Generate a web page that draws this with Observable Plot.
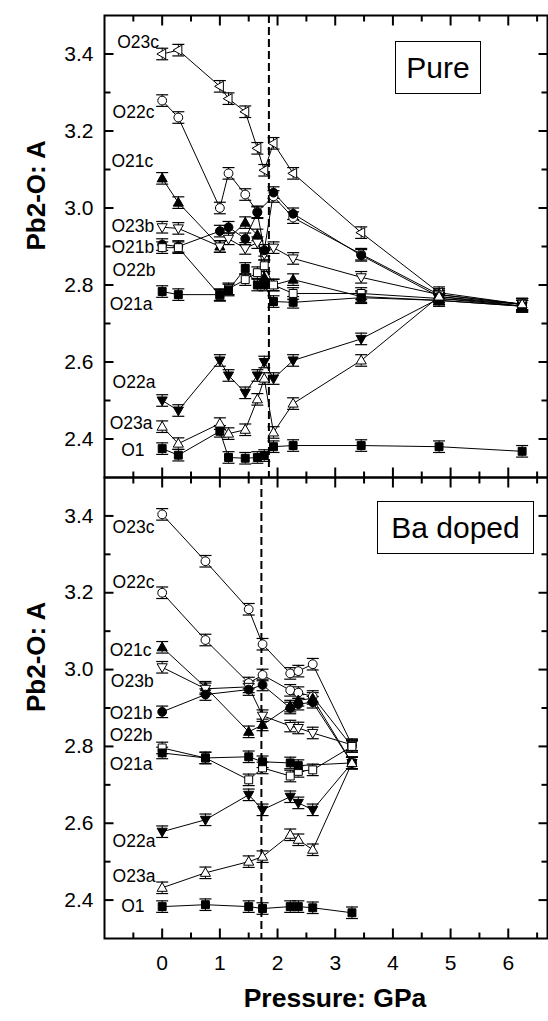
<!DOCTYPE html>
<html><head><meta charset="utf-8">
<script src="https://cdn.jsdelivr.net/npm/d3@7"></script>
<script src="https://cdn.jsdelivr.net/npm/@observablehq/plot@0.6"></script>
<style>
body{margin:0;background:#fff;font-family:"Liberation Sans",Arial,sans-serif;}
#wrap{position:relative;width:548px;height:1021px;overflow:hidden;background:#fff;}
#wrap svg{position:absolute;left:0;overflow:visible;background:none;}
.box{position:absolute;border:1.5px solid #000;background:#fff;font-size:30px;display:flex;align-items:center;justify-content:center;box-sizing:border-box;}
</style></head><body><div id="wrap"></div>
<script>
// ---------- data ----------
const seriesNames = ["O23c","O22c","O21c","O23b","O21b","O22b","O21a","O22a","O23a","O1"];

// Pure sample
const purePressure = [0, 0.28, 1.0, 1.15, 1.44, 1.65, 1.77, 1.93, 2.27, 3.45, 4.8, 6.24];
const pure_O23c = [3.40, 3.41, 3.316, 3.284, 3.25, 3.155, 3.098, 3.168, 3.09, 2.936, 2.78, 2.75];
const pure_O22c = [3.279, 3.235, 3.00, 3.09, 3.035, 2.99, null, 3.03, 2.975, 2.88, 2.775, 2.75];
const pure_O21c = [3.077, 3.014, 2.90, null, 2.962, 2.93, 2.82, 2.80, 2.814, 2.77, 2.76, 2.745];
const pure_O23b = [2.95, 2.947, 2.90, 2.92, 2.895, 2.91, 2.88, 2.897, 2.869, 2.82, 2.775, 2.75];
const pure_O21b = [2.905, 2.90, 2.94, 2.95, 2.92, 2.988, 2.89, 3.04, 2.985, 2.877, 2.77, 2.745];
const pure_O22b = [2.897, 2.897, 2.773, 2.79, 2.814, 2.832, 2.85, 2.80, 2.778, 2.778, 2.765, 2.75];
const pure_O21a = [2.783, 2.775, 2.775, 2.787, 2.843, 2.80, 2.80, 2.757, 2.755, 2.767, 2.76, 2.745];
const pure_O22a = [2.50, 2.474, 2.604, 2.565, 2.52, 2.565, 2.60, 2.557, 2.604, 2.66, 2.765, 2.745];
const pure_O23a = [2.432, 2.388, 2.44, 2.414, 2.424, 2.503, 2.557, 2.417, 2.492, 2.604, 2.77, 2.75];
const pure_O1   = [2.375, 2.358, 2.42, 2.352, 2.35, 2.352, 2.357, 2.38, 2.383, 2.383, 2.38, 2.368];
const pureLabelX = [-0.78, -0.86, -0.88, -0.88, -0.88, -0.86, -0.91, -0.86, -0.91, -0.71];
const pureLabelY = [3.43, 3.248, 3.12, 2.952, 2.897, 2.838, 2.75, 2.547, 2.44, 2.37];
const pureTransition = 1.85;

// Ba doped sample
const baPressure = [0, 0.75, 1.5, 1.74, 2.22, 2.36, 2.61, 3.29];
const ba_O23c = [3.404, 3.282, 3.157, 3.066, 2.99, 2.996, 3.014, 2.804];
const ba_O22c = [3.20, 3.077, 2.965, 2.986, 2.946, 2.94, 2.93, 2.80];
const ba_O21c = [3.058, 2.954, 2.838, 2.856, 2.905, 2.92, 2.925, 2.757];
const ba_O23b = [3.006, 2.95, 2.955, 2.88, 2.853, 2.848, 2.835, 2.804];
const ba_O21b = [2.89, 2.935, 2.948, 2.96, 2.90, 2.91, 2.915, 2.757];
const ba_O22b = [2.796, 2.77, 2.713, 2.744, 2.723, 2.735, 2.739, 2.80];
const ba_O21a = [2.783, 2.77, 2.773, 2.76, 2.757, 2.75, null, 2.757];
const ba_O22a = [2.578, 2.609, 2.674, 2.635, 2.669, 2.653, 2.635, 2.757];
const ba_O23a = [2.432, 2.471, 2.50, 2.513, 2.57, 2.557, 2.531, 2.757];
const ba_O1   = [2.383, 2.388, 2.383, 2.378, 2.383, 2.383, 2.38, 2.367];
const baLabelX = [-0.86, -0.86, -0.91, -0.89, -0.91, -0.91, -0.91, -0.86, -0.86, -0.71];
const baLabelY = [3.370, 3.227, 3.05, 2.968, 2.887, 2.83, 2.752, 2.552, 2.461, 2.383];
const baTransition = 1.72;

const errorBar = 0.015;
const yMajor = [2.4, 2.6, 2.8, 3.0, 3.2, 3.4];
const yMinor = [2.5, 2.7, 2.9, 3.1, 3.3];
const xMajor = [0, 1, 2, 3, 4, 5, 6];
const xMinor = [-0.5, 0.5, 1.5, 2.5, 3.5, 4.5, 5.5, 6.5];
const xLabel = "Pressure: GPa";
const yLabel = "Pb2-O: A";

// ---------- symbols ----------
const rad = s => Math.sqrt(s / Math.PI);
const symCircle = {draw(c, s){const r = rad(s); c.moveTo(r,0); c.arc(0,0,r,0,2*Math.PI);}};
const symSquare = {draw(c, s){const r = rad(s)*0.9; c.rect(-r,-r,2*r,2*r);}};
const tri = (dir) => ({draw(c, s){
  const r = rad(s); const a = r*1.15, t = r*1.2, b = r*0.8;
  let pts = [[0,-t],[a,b],[-a,b]];
  if (dir === "down") pts = pts.map(([x,y]) => [x,-y]);
  if (dir === "left") pts = pts.map(([x,y]) => [y,x]);
  c.moveTo(...pts[0]); c.lineTo(...pts[1]); c.lineTo(...pts[2]); c.closePath();
}});
const tickSym = (dx, dy) => ({draw(c, s){const L = rad(s); c.moveTo(0,0); c.lineTo(dx*L, dy*L);}});
const symCap = {draw(c, s){const L = rad(s); c.moveTo(-L,0); c.lineTo(L,0);}};

const styleOf = {
  O23c: [tri("left"), "white"], O22c: [symCircle, "white"], O21c: [tri("up"), "black"],
  O23b: [tri("down"), "white"], O21b: [symCircle, "black"], O22b: [symSquare, "white"],
  O21a: [symSquare, "black"], O22a: [tri("down"), "black"], O23a: [tri("up"), "white"],
  O1: [symSquare, "black"]
};

function tidy(pressure, seriesArrays) {
  const rows = [];
  seriesNames.forEach((name, k) => {
    seriesArrays[k].forEach((v, i) => { if (v != null) rows.push({series: name, p: pressure[i], v}); });
  });
  return rows;
}

function panel({rows, labelX, labelY, transition, o23cSym, height, marginTop, marginBottom, bottomAxis}) {
  const labels = seriesNames.map((n, i) => ({n, x: labelX[i], y: labelY[i]}));
  const marks = [
    Plot.ruleX([transition], {stroke: "black", strokeWidth: 2, strokeDasharray: "8,4"}),
    Plot.line(rows, {x: "p", y: "v", z: "series", stroke: "black", strokeWidth: 1}),
    Plot.ruleX(rows, {x: "p", y1: d => d.v - errorBar, y2: d => d.v + errorBar, stroke: "black", strokeWidth: 1}),
    Plot.dot(rows, {x: "p", y: d => d.v + errorBar, symbol: symCap, r: 6, stroke: "black", strokeWidth: 1.2}),
    Plot.dot(rows, {x: "p", y: d => d.v - errorBar, symbol: symCap, r: 6, stroke: "black", strokeWidth: 1.2})
  ];
  for (const name of seriesNames) {
    let [sym, fill] = styleOf[name];
    if (name === "O23c" && o23cSym) sym = o23cSym;
    marks.push(Plot.dot(rows.filter(d => d.series === name), {x: "p", y: "v", symbol: sym, r: 4.4, fill, stroke: "black", strokeWidth: 1}));
  }
  marks.push(
    Plot.text(labels, {x: "x", y: "y", text: "n", textAnchor: "start", fontSize: 17.5, fill: "black"}),
    Plot.dot(xMajor, {x: d => d, frameAnchor: "bottom", symbol: tickSym(0,-1), r: 10, stroke: "black", strokeWidth: 2}),
    Plot.dot(xMinor, {x: d => d, frameAnchor: "bottom", symbol: tickSym(0,-1), r: 6, stroke: "black", strokeWidth: 2}),
    Plot.dot(xMajor, {x: d => d, frameAnchor: "top", symbol: tickSym(0,1), r: 10, stroke: "black", strokeWidth: 2}),
    Plot.dot(xMinor, {x: d => d, frameAnchor: "top", symbol: tickSym(0,1), r: 6, stroke: "black", strokeWidth: 2}),
    Plot.dot(yMajor, {y: d => d, frameAnchor: "left", symbol: tickSym(1,0), r: 9, stroke: "black", strokeWidth: 2}),
    Plot.dot(yMinor, {y: d => d, frameAnchor: "left", symbol: tickSym(1,0), r: 6, stroke: "black", strokeWidth: 2}),
    Plot.dot(yMajor, {y: d => d, frameAnchor: "right", symbol: tickSym(-1,0), r: 9, stroke: "black", strokeWidth: 2}),
    Plot.dot(yMinor, {y: d => d, frameAnchor: "right", symbol: tickSym(-1,0), r: 6, stroke: "black", strokeWidth: 2}),
    Plot.text(yMajor, {y: d => d, text: d => d.toFixed(1), frameAnchor: "left", textAnchor: "end", dx: -11, fontSize: 21, fill: "black"}),
    Plot.text([yLabel], {frameAnchor: "left", rotate: -90, dx: -68, dy: 4, fontSize: 26, fontWeight: "bold", fill: "black"}),
    Plot.frame({stroke: "black", strokeWidth: 2})
  );
  if (bottomAxis) {
    marks.push(
      Plot.text(xMajor, {x: d => d, text: d => String(d), frameAnchor: "bottom", dy: 31, fontSize: 21, fill: "black"}),
      Plot.text([xLabel], {frameAnchor: "bottom", dx: 9, dy: 68, fontSize: 26.5, fontWeight: "bold", fill: "black"})
    );
  }
  return Plot.plot({
    width: 548, height, marginLeft: 104, marginRight: 1, marginTop, marginBottom,
    x: {domain: [-1, 6.68], axis: null},
    y: {domain: [2.3, 3.5], axis: null},
    style: {fontFamily: '"Liberation Sans", Arial, sans-serif', background: "none"},
    marks
  });
}

const pureRows = tidy(purePressure, [pure_O23c, pure_O22c, pure_O21c, pure_O23b, pure_O21b, pure_O22b, pure_O21a, pure_O22a, pure_O23a, pure_O1]);
const baRows = tidy(baPressure, [ba_O23c, ba_O22c, ba_O21c, ba_O23b, ba_O21b, ba_O22b, ba_O21a, ba_O22a, ba_O23a, ba_O1]);

const wrap = document.getElementById("wrap");
const topPanel = panel({rows: pureRows, labelX: pureLabelX, labelY: pureLabelY, transition: pureTransition, height: 478, marginTop: 15, marginBottom: 1, bottomAxis: false});
topPanel.style.top = "0px";
const botPanel = panel({rows: baRows, labelX: baLabelX, labelY: baLabelY, transition: baTransition, o23cSym: symCircle, height: 545, marginTop: 1, marginBottom: 83, bottomAxis: true});
botPanel.style.top = "476px";
wrap.appendChild(topPanel);
wrap.appendChild(botPanel);

const b1 = document.createElement("div"); b1.className = "box"; b1.textContent = "Pure";
Object.assign(b1.style, {left: "395px", top: "41px", width: "86px", height: "53px"});
const b2 = document.createElement("div"); b2.className = "box"; b2.textContent = "Ba doped";
Object.assign(b2.style, {left: "377px", top: "501px", width: "157px", height: "53px"});
wrap.appendChild(b1); wrap.appendChild(b2);
</script></body></html>
